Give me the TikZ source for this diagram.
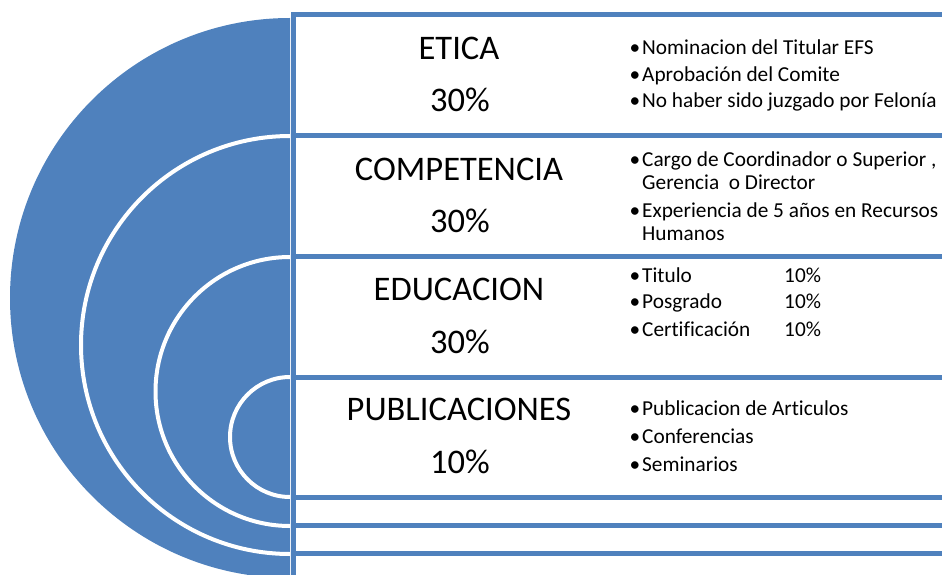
\documentclass[tikz,border=0pt]{standalone}
\usepackage{fontspec}
\setmainfont{Carlito}[Ligatures=NoCommon]
\definecolor{ringblue}{HTML}{4F81BD}

\begin{document}
\begin{tikzpicture}[x=1pt,y=-1pt,
                    ring/.style={draw=white,line width=4pt},
                    band/.style={draw=ringblue,fill=white,line width=5pt},
                    title/.style={font=\fontsize{34.5}{40}\selectfont,inner sep=0pt,anchor=base},
                    item/.style={font=\fontsize{21.3}{25}\selectfont,inner sep=0pt,anchor=base west}]
  \clip (0,0) rectangle (942,575);

  % half disk and the white rings
  \fill[ringblue] (290,18) arc[start angle=270,end angle=90,radius=280] -- cycle;
  \draw[ring] (290,136) arc[start angle=270,end angle=90,radius=209];
  \draw[ring] (290,257) arc[start angle=270,end angle=90,radius=134.5];
  \draw[ring] (290,377) arc[start angle=270,end angle=90,radius=60];

  % bands
  \draw[band] (293,15) rectangle (960,136);
  \draw[band] (293,136) rectangle (960,256);
  \draw[band] (293,256) rectangle (960,377);
  \draw[band] (293,377) rectangle (960,497);
  \draw[band] (293,497) rectangle (960,525);
  \draw[band] (293,525) rectangle (960,553);
  \draw[band] (293,553) rectangle (960,581);

  \node[title] (etica)   at (459,60)  {ETICA};
  \node[title] (eticaP)  at (460,112) {30\%};
  \node[title] (comp)    at (459,180) {COMPETENCIA};
  \node[title] (compP)   at (460,232) {30\%};
  \node[title] (educ)    at (459,300) {EDUCACION};
  \node[title] (educP)   at (460,353) {30\%};
  \node[title] (publ)    at (459,420) {PUBLICACIONES};
  \node[title] (publP)   at (460,473) {10\%};

  \node[item] (et1) at (642,55)  {\llap{\textbullet\hspace{2pt}}Nominacion del Titular EFS};
  \node[item] (et2) at (642,82)  {\llap{\textbullet\hspace{2pt}}Aprobación del Comite};
  \node[item] (et3) at (642,108) {\llap{\textbullet\hspace{2pt}}No haber sido juzgado por Felonía};

  \node[item] (co1)  at (642,166) {\llap{\textbullet\hspace{2pt}}Cargo de Coordinador o Superior ,};
  \node[item] (co1b) at (642,189) {Gerencia\ \ o Director};
  \node[item] (co2)  at (642,217) {\llap{\textbullet\hspace{2pt}}Experiencia de 5 años en Recursos};
  \node[item] (co2b) at (642,240) {Humanos};

  \node[item] (ed1) at (642,282) {\llap{\textbullet\hspace{2pt}}Titulo};
  \node[item] (ed2) at (642,308) {\llap{\textbullet\hspace{2pt}}Posgrado};
  \node[item] (ed3) at (642,336) {\llap{\textbullet\hspace{2pt}}Certificación};
  \node[item] (ed1P) at (784,282) {10\%};
  \node[item] (ed2P) at (784,308) {10\%};
  \node[item] (ed3P) at (784,336) {10\%};

  \node[item] (pu1) at (642,415) {\llap{\textbullet\hspace{2pt}}Publicacion de Articulos};
  \node[item] (pu2) at (642,443) {\llap{\textbullet\hspace{2pt}}Conferencias};
  \node[item] (pu3) at (642,471) {\llap{\textbullet\hspace{2pt}}Seminarios};
\end{tikzpicture}
\end{document}
